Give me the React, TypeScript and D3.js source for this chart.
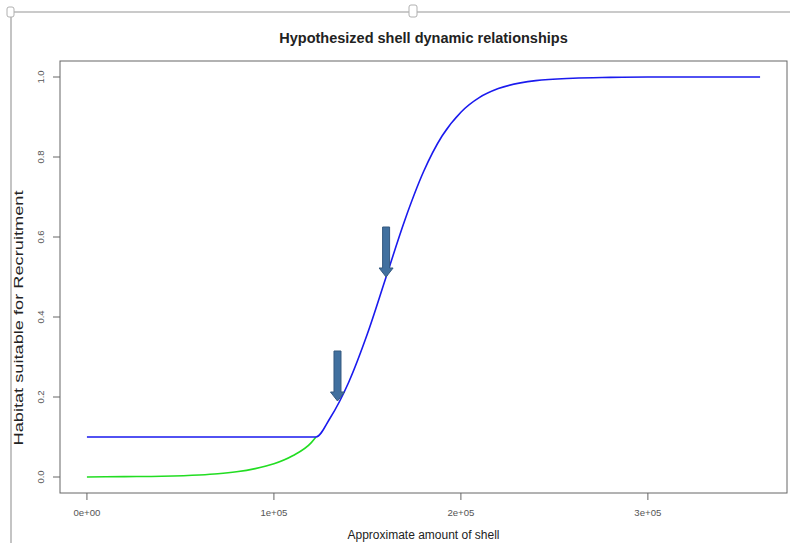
import React from "react";
import * as d3 from "d3";

// values
const lowX = [0, 20000, 40000, 60000, 70000, 80000, 90000, 100000, 110000, 120000, 122500];
const lowY = [0.0, 0.001, 0.002, 0.005, 0.008, 0.013, 0.021, 0.033, 0.053, 0.086, 0.1];

const highX = [0, 122500, 130000, 140000, 150000, 160000, 170000, 180000, 190000, 200000, 210000, 220000, 240000, 260000, 280000, 300000, 330000, 360000];
const highY = [0.1, 0.1, 0.147, 0.237, 0.358, 0.5, 0.642, 0.763, 0.853, 0.912, 0.949, 0.971, 0.991, 0.997, 0.999, 1.0, 1.0, 1.0];

const arrowX = [134000, 160000];
const arrowY = [0.19, 0.5];

const xTicks = [0, 100000, 200000, 300000];
const xTickLabels = ["0e+00", "1e+05", "2e+05", "3e+05"];
const yTicks = [0, 0.2, 0.4, 0.6, 0.8, 1.0];
const yTickLabels = ["0.0", "0.2", "0.4", "0.6", "0.8", "1.0"];

const title = "Hypothesized shell dynamic relationships";
const xTitle = "Approximate amount of shell";
const yTitle = "Habitat suitable for Recruitment";

const W = 790;
const H = 543;
const box = { left: 60, top: 61, right: 787, bottom: 493 };
const font = "'Liberation Sans', Arial, sans-serif";

const App = () => {
  // R style: data range padded by 4%
  const xMax = d3.max(highX) as number;
  const x = d3
    .scaleLinear()
    .domain([-0.04 * xMax, xMax * 1.04])
    .range([box.left, box.right]);
  const y = d3.scaleLinear().domain([-0.04, 1.04]).range([box.bottom, box.top]);

  const line = d3
    .line<[number, number]>()
    .x((d) => x(d[0]))
    .y((d) => y(d[1]))
    .curve(d3.curveMonotoneX);

  const lowPts = lowX.map((v, i) => [v, lowY[i]] as [number, number]);
  const highPts = highX.map((v, i) => [v, highY[i]] as [number, number]);

  const arrowLen = 50;
  const shaftW = 7;
  const headW = 14;
  const headH = 9;

  return (
    <svg
      width={W}
      height={H}
      style={{ position: "absolute", left: 0, top: 0, background: "#fff" }}
      fontFamily={font}
    >
      {/* window frame bits from the screenshot */}
      <line x1={11} y1={12} x2={W} y2={12} stroke="#b8b8b8" strokeWidth={1.5} />
      <line x1={11} y1={12} x2={11} y2={H} stroke="#c4c4c4" strokeWidth={2} />
      <rect x={7} y={7} width={7} height={10} rx={2} fill="#fff" stroke="#b0b0b0" />
      <rect x={409} y={5} width={8} height={12} rx={2} fill="#fff" stroke="#b0b0b0" />

      <text x={(box.left + box.right) / 2} y={43} textAnchor="middle" fontSize={14.5} fontWeight="bold" fill="#222">
        {title}
      </text>

      <rect
        x={box.left}
        y={box.top}
        width={box.right - box.left}
        height={box.bottom - box.top}
        fill="none"
        stroke="#666"
      />

      {xTicks.map((t, i) => (
        <g key={"xt" + i}>
          <line x1={x(t)} x2={x(t)} y1={box.bottom} y2={box.bottom + 7} stroke="#666" />
          <text x={x(t)} y={516} textAnchor="middle" fontSize={9.5} fill="#555" textLength={27} lengthAdjust="spacingAndGlyphs">
            {xTickLabels[i]}
          </text>
        </g>
      ))}

      {yTicks.map((t, i) => (
        <g key={"yt" + i}>
          <line x1={box.left} x2={box.left - 7} y1={y(t)} y2={y(t)} stroke="#666" />
          <text
            transform={`translate(44,${y(t)}) rotate(-90)`}
            textAnchor="middle"
            fontSize={9.5}
            fill="#555"
          >
            {yTickLabels[i]}
          </text>
        </g>
      ))}

      <text x={(box.left + box.right) / 2} y={539} textAnchor="middle" fontSize={12} fill="#222">
        {xTitle}
      </text>
      <text
        transform="translate(23,318) rotate(-90)"
        textAnchor="middle"
        fontSize={13}
        fill="#222"
        textLength={255}
        lengthAdjust="spacingAndGlyphs"
      >
        {yTitle}
      </text>

      <path d={line(lowPts) || ""} fill="none" stroke="#22dd22" strokeWidth={1.6} />
      <path d={line(highPts) || ""} fill="none" stroke="#1a1aee" strokeWidth={1.6} />

      {arrowX.map((v, i) => {
        const tx = x(v);
        const ty = y(arrowY[i]);
        const top = ty - arrowLen;
        const d = [
          [tx - shaftW / 2, top],
          [tx + shaftW / 2, top],
          [tx + shaftW / 2, ty - headH],
          [tx + headW / 2, ty - headH],
          [tx, ty],
          [tx - headW / 2, ty - headH],
          [tx - shaftW / 2, ty - headH],
        ];
        return (
          <path
            key={"ar" + i}
            d={"M" + d.map((p) => p.join(",")).join("L") + "Z"}
            fill="#41709f"
            stroke="#34597f"
            strokeWidth={1}
          />
        );
      })}
    </svg>
  );
};

export default App;
